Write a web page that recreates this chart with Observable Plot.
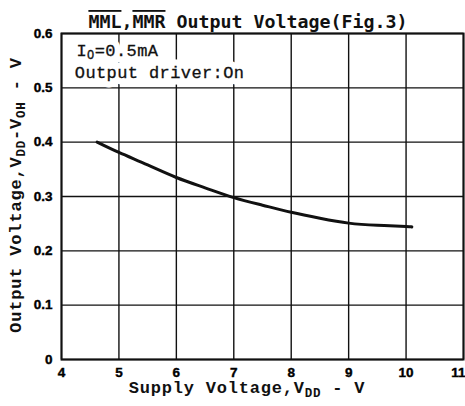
<!DOCTYPE html>
<html>
<head>
<meta charset="utf-8">
<script src="https://cdn.jsdelivr.net/npm/d3@7"></script>
<script src="https://cdn.jsdelivr.net/npm/@observablehq/plot@0.6"></script>
<style>
  html, body { margin: 0; padding: 0; background: #fff; }
  svg { overflow: visible; }
</style>
</head>
<body>
<div id="chart"></div>
<script>
const xTicks = [4, 5, 6, 7, 8, 9, 10, 11];
const yTicks = [0, 0.1, 0.2, 0.3, 0.4, 0.5, 0.6];
const supplyVoltage = [4.62, 5, 5.5, 6, 6.5, 7, 7.5, 8, 8.5, 9, 9.5, 10, 10.1];
const outputVoltage = [0.400, 0.381, 0.358, 0.335, 0.316, 0.298, 0.284, 0.271, 0.260, 0.251, 0.247, 0.245, 0.244];
const noteX = [4.27, 4.24];
const noteY = [0.557, 0.518];

const curve = supplyVoltage.map((v, i) => ({v, o: outputVoltage[i]}));
const ink = "#111";

const plot = Plot.plot({
  width: 465,
  height: 406,
  marginLeft: 61,
  marginRight: 2,
  marginTop: 33,
  marginBottom: 47,
  x: {domain: [4, 11]},
  y: {domain: [0, 0.6]},
  style: {background: "#fff", color: ink},
  marks: [
    Plot.gridX(xTicks, {stroke: ink, strokeOpacity: 1, strokeWidth: 1.4}),
    Plot.gridY(yTicks, {stroke: ink, strokeOpacity: 1, strokeWidth: 1.4}),
    Plot.line(curve, {x: "v", y: "o", curve: "natural", stroke: ink, strokeWidth: 3}),
    Plot.frame({stroke: ink, strokeWidth: 2}),
    Plot.axisX(xTicks, {
      tickSize: 0, tickPadding: 8, label: null,
      fontFamily: "Liberation Sans", fontSize: 13, fill: ink
    }),
    Plot.axisY(yTicks, {
      tickSize: 0, tickPadding: 9, label: null,
      tickFormat: d => d === 0 ? "0" : d.toFixed(1),
      fontFamily: "Liberation Sans", fontSize: 13, fill: ink
    })
  ]
});

const svg = d3.select(plot);
const sx = plot.scale("x"), sy = plot.scale("y");

// bold, black tick labels
svg.selectAll('g[aria-label="x-axis tick label"] text, g[aria-label="y-axis tick label"] text')
  .style("font-weight", "bold")
  .style("font-family", "Liberation Sans")
  .style("font-size", "13.5px")
  .style("fill", "#000")
  .style("stroke", "#000")
  .style("stroke-width", "0.4px");
svg.selectAll('g[aria-label="x-axis tick label"] text').each(function () {
  if (this.textContent === "11") {
    d3.select(this).attr("text-anchor", "end").attr("x", 465 - sx.apply(11));
  }
});

// Annotations (white-boxed text inside the top-left cells)
function fillNote(sel, i) {
  if (i === 0) {
    sel.append("tspan").text("I");
    sel.append("tspan").attr("font-size", 12).attr("dy", 3).text("O");
    sel.append("tspan").attr("dy", -3).text("=0.5mA");
  } else {
    sel.text("Output driver:On");
  }
}
function note(i, halo) {
  const t = svg.append("text")
    .attr("x", sx.apply(noteX[i])).attr("y", sy.apply(noteY[i]))
    .attr("text-anchor", "start")
    .attr("font-family", "Liberation Mono")
    .attr("font-size", 17)
    .attr("letter-spacing", 0.4);
  if (halo) {
    t.attr("fill", "#fff").attr("stroke", "#fff").attr("stroke-width", 13).attr("stroke-linejoin", "round");
  } else {
    t.attr("fill", ink).attr("stroke", ink).attr("stroke-width", 0.3);
  }
  fillNote(t, i);
}
note(0, true); note(1, true);
note(0, false); note(1, false);

// Title with overlines
const title = svg.append("text")
  .attr("x", 248).attr("y", 28)
  .attr("text-anchor", "middle")
  .attr("font-family", "DejaVu Sans Mono")
  .attr("font-weight", "bold")
  .attr("font-size", 18.3)
  .attr("fill", ink);
title.append("tspan").style("text-decoration", "overline").text("MML");
title.append("tspan").text(",");
title.append("tspan").style("text-decoration", "overline").text("MMR");
title.append("tspan").text(" Output Voltage(Fig.3)");

// X axis label
const xl = svg.append("text")
  .attr("x", 247).attr("y", 393)
  .attr("text-anchor", "middle")
  .attr("font-family", "Liberation Mono")
  .attr("font-weight", "bold")
  .attr("font-size", 17)
  .attr("letter-spacing", 0.8)
  .attr("fill", ink);
xl.append("tspan").text("Supply Voltage,V");
xl.append("tspan").attr("font-size", 12.5).attr("dy", 4).text("DD");
xl.append("tspan").attr("dy", -4).text(" - V");

// Y axis label
const yl = svg.append("text")
  .attr("transform", "translate(21,195) rotate(-90)")
  .attr("text-anchor", "middle")
  .attr("font-family", "Liberation Mono")
  .attr("font-weight", "bold")
  .attr("font-size", 17)
  .attr("letter-spacing", 0.8)
  .attr("fill", ink);
yl.append("tspan").text("Output Voltage,V");
yl.append("tspan").attr("font-size", 12.5).attr("dy", 4).text("DD");
yl.append("tspan").attr("dy", -4).text("-V");
yl.append("tspan").attr("font-size", 12.5).attr("dy", 4).text("OH");
yl.append("tspan").attr("dy", -4).text(" - V");

document.getElementById("chart").appendChild(plot);
</script>
</body>
</html>
